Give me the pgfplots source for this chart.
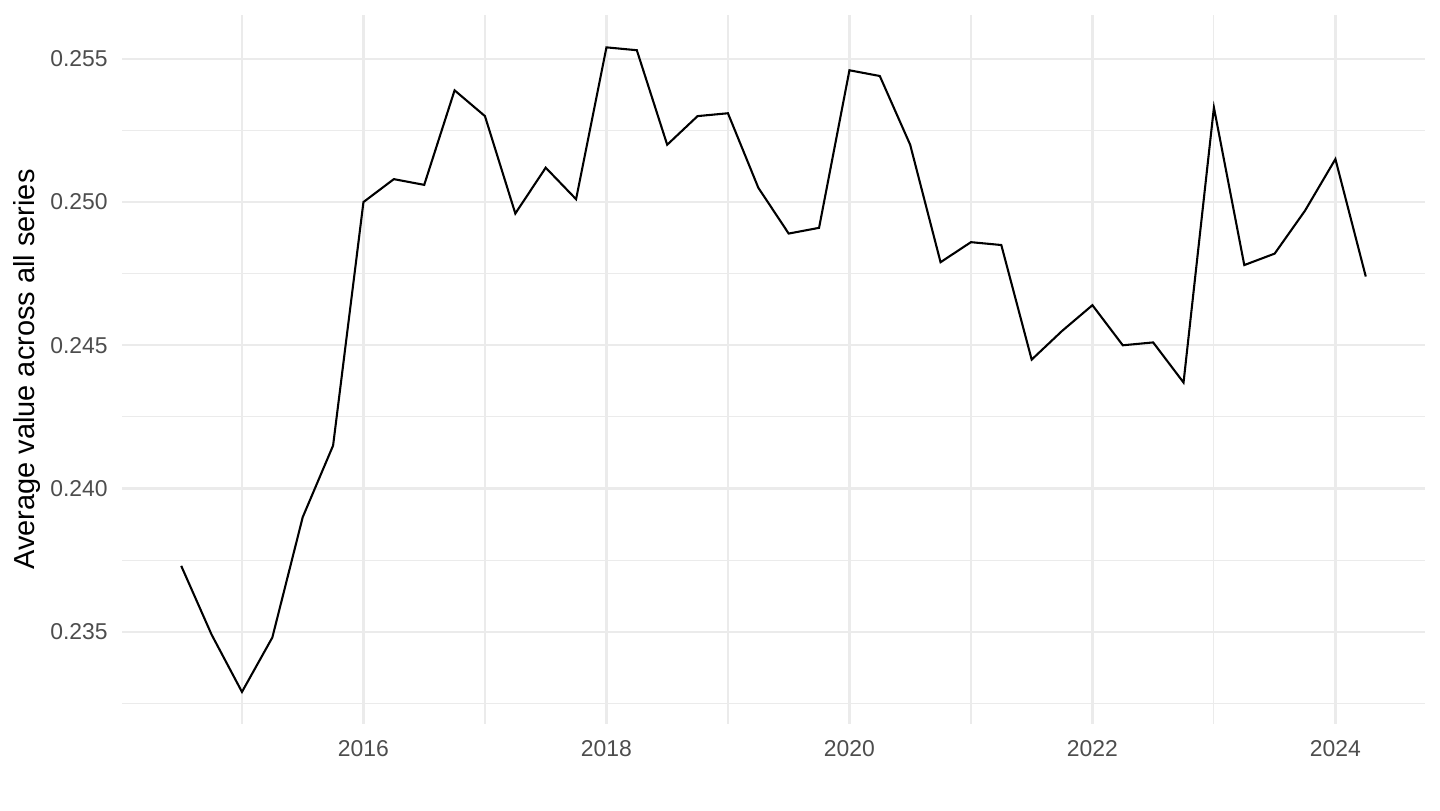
\documentclass[border=0pt]{standalone}
\usepackage{pgfplots}
\pgfplotsset{compat=1.18}
\usepackage{fontspec}
\setmainfont{Liberation Sans}
\definecolor{gridgrey}{HTML}{EBEBEB}
\definecolor{ticktext}{HTML}{4D4D4D}
\begin{document}
\begin{tikzpicture}
\begin{axis}[
name=main,
at={(0,0)}, anchor=south west,
scale only axis,
width=625.44bp, height=340.32bp,
xmin=2014.0125, xmax=2024.7375,
ymin=0.23178, ymax=0.25653,
axis line style={draw=none},
tick style={draw=none},
xtick={2016,2018,2020,2022,2024},
minor xtick={2015,2017,2019,2021,2023},
ytick={0.235,0.240,0.245,0.250,0.255},
minor ytick={0.2325,0.2375,0.2425,0.2475,0.2525},
grid=both,
major grid style={gridgrey, line width=1.1bp},
minor grid style={gridgrey, line width=0.55bp},
x tick label style={/pgf/number format/1000 sep={}, font=\fontsize{11bp}{13bp}\selectfont, text=ticktext, anchor=base, yshift=-15.4bp},
y tick label style={/pgf/number format/fixed, /pgf/number format/fixed zerofill, /pgf/number format/precision=3, font=\fontsize{11bp}{13bp}\selectfont, text=ticktext, anchor=east, inner sep=0pt, xshift=-6.7bp},
/pgf/number format/assume math mode=true,
scaled y ticks=false,
ylabel={Average value across all series},
every axis y label/.style={at={(axis description cs:-0.0729,0.5)}, rotate=90, anchor=center, font=\fontsize{13.9bp}{16bp}\selectfont},
]
\addplot[black, line width=1bp] coordinates {
(2014.50,0.2373) (2014.75,0.2349) (2015.00,0.2329) (2015.25,0.2348)
(2015.50,0.2390) (2015.75,0.2415) (2016.00,0.2500) (2016.25,0.2508)
(2016.50,0.2506) (2016.75,0.2539) (2017.00,0.2530) (2017.25,0.2496)
(2017.50,0.2512) (2017.75,0.2501) (2018.00,0.2554) (2018.25,0.2553)
(2018.50,0.2520) (2018.75,0.2530) (2019.00,0.2531) (2019.25,0.2505)
(2019.50,0.2489) (2019.75,0.2491) (2020.00,0.2546) (2020.25,0.2544)
(2020.50,0.2520) (2020.75,0.2479) (2021.00,0.2486) (2021.25,0.2485)
(2021.50,0.2445) (2021.75,0.2455) (2022.00,0.2464) (2022.25,0.2450)
(2022.50,0.2451) (2022.75,0.2437) (2023.00,0.2533) (2023.25,0.2478)
(2023.50,0.2482) (2023.75,0.2497) (2024.00,0.2515) (2024.25,0.2474)
};
\end{axis}
\pgfresetboundingbox
\useasboundingbox (-58.56bp,-41.28bp) rectangle (632.64bp,347.52bp);
\end{tikzpicture}
\end{document}
